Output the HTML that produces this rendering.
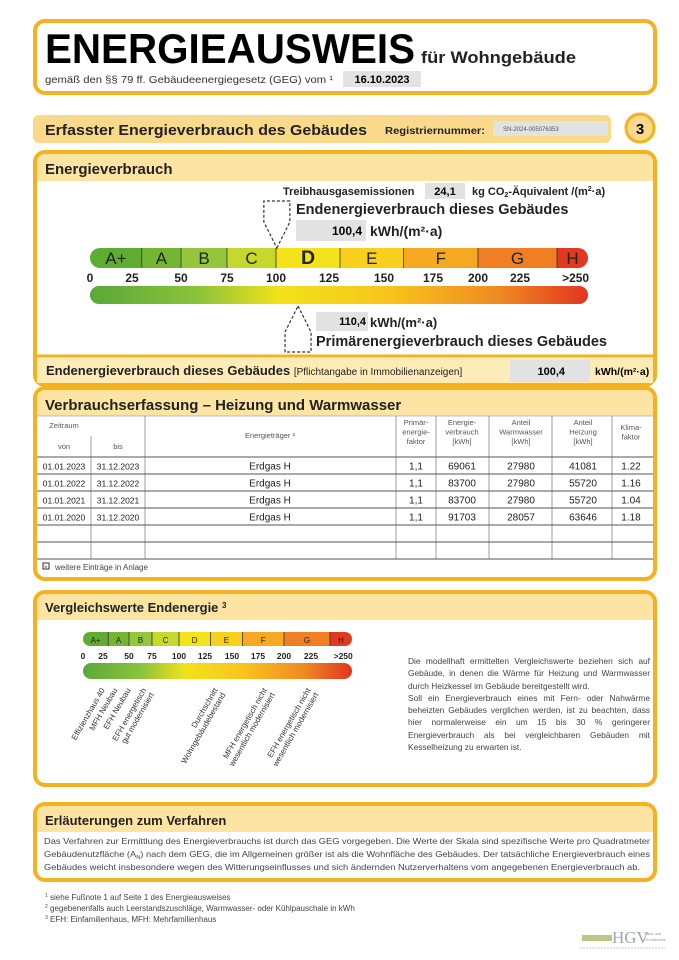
<!DOCTYPE html>
<html><head><meta charset="utf-8">
<style>
body{margin:0;background:#fff;font-family:"Liberation Sans",sans-serif;}
#page{position:relative;width:679px;height:960px;overflow:hidden;}
svg{position:absolute;left:0;top:0;}
.p{position:absolute;font-size:8.4px;color:#444;line-height:12.3px;text-align:justify;}
</style></head>
<body><div id="page">
<svg id="s" width="679" height="960" xmlns="http://www.w3.org/2000/svg" font-family="Liberation Sans, sans-serif">
<defs>
<linearGradient id="gr" x1="0" x2="1" y1="0" y2="0">
<stop offset="0" stop-color="#5aa83a"/><stop offset="0.22" stop-color="#8cc43a"/><stop offset="0.38" stop-color="#f2e21a"/><stop offset="0.6" stop-color="#f8c41c"/><stop offset="0.82" stop-color="#f08a22"/><stop offset="1" stop-color="#e2341f"/>
</linearGradient>
</defs>
<g>
<rect x="35" y="21" width="620" height="72" rx="10" fill="#fff" stroke="#f4b120" stroke-width="4"/>
<text x="45" y="63" font-size="42" font-weight="bold" textLength="370" lengthAdjust="spacingAndGlyphs">ENERGIEAUSWEIS</text>
<text x="421" y="63" font-size="17" font-weight="bold" fill="#222" textLength="155" lengthAdjust="spacingAndGlyphs">für Wohngebäude</text>
<text x="45" y="83" font-size="10" fill="#333" textLength="288" lengthAdjust="spacingAndGlyphs">gemäß den §§ 79 ff. Gebäudeenergiegesetz (GEG) vom ¹</text>
<rect x="343" y="71" width="78" height="16" fill="#e3e3e3"/>
<text x="382" y="83" font-size="11" font-weight="bold" text-anchor="middle">16.10.2023</text>
</g>
<g>
<rect x="33" y="115" width="578" height="28" rx="6" fill="#fbd98a"/>
<text x="45" y="135" font-size="15" font-weight="bold" fill="#222" textLength="322" lengthAdjust="spacingAndGlyphs">Erfasster Energieverbrauch des Gebäudes</text>
<text x="385" y="134" font-size="10" font-weight="bold" fill="#222" textLength="100" lengthAdjust="spacingAndGlyphs">Registriernummer:</text>
<rect x="493" y="121" width="115" height="15" fill="#e2e2e2"/>
<text x="503" y="131" font-size="6" fill="#555">SN-2024-005076353</text>
<circle cx="640" cy="128" r="14" fill="#fbd98a" stroke="#f4b120" stroke-width="3"/>
<text x="640" y="134" font-size="15" font-weight="bold" text-anchor="middle">3</text>
</g>
<g>
<rect x="35" y="152" width="620" height="233" rx="10" fill="#fff" stroke="#f4b120" stroke-width="4"/>
<path d="M37 181 V162 a8 8 0 0 1 8 -8 H645 a8 8 0 0 1 8 8 V181 Z" fill="#fde4a2"/>
<text x="45" y="174" font-size="15" font-weight="bold" fill="#222">Energieverbrauch</text>
<text x="283" y="195" font-size="11" font-weight="bold" fill="#222">Treibhausgasemissionen</text>
<rect x="425" y="183" width="40" height="16" fill="#e2e2e2"/>
<text x="445" y="195" font-size="11" font-weight="bold" text-anchor="middle">24,1</text>
<text x="472" y="195" font-size="11" font-weight="bold" fill="#222">kg CO<tspan font-size="7" dy="2">2</tspan><tspan dy="-2">-Äquivalent /(m</tspan><tspan font-size="7" dy="-4">2</tspan><tspan dy="4">·a)</tspan></text>
<text x="296" y="214" font-size="14.5" font-weight="bold" fill="#222">Endenergieverbrauch dieses Gebäudes</text>
<rect x="296" y="220" width="70" height="21" fill="#e2e2e2"/>
<text x="362" y="235" font-size="12" font-weight="bold" text-anchor="end">100,4</text>
<text x="370" y="236" font-size="14" font-weight="bold" fill="#222">kWh/(m²·a)</text>
<rect x="316" y="312" width="52" height="19" fill="#e2e2e2"/>
<text x="366" y="325" font-size="11" font-weight="bold" text-anchor="end">110,4</text>
<text x="370" y="327" font-size="13" font-weight="bold" fill="#222">kWh/(m²·a)</text>
<text x="316" y="346" font-size="14.5" font-weight="bold" fill="#222">Primärenergieverbrauch dieses Gebäudes</text>
<line x1="37" y1="356" x2="653" y2="356" stroke="#f4b120" stroke-width="3"/>
<rect x="37" y="358" width="616" height="25" fill="#fdecb8"/>
<text x="46" y="375" font-size="13" font-weight="bold" fill="#222">Endenergieverbrauch dieses Gebäudes <tspan font-size="10" font-weight="normal">[Pflichtangabe in Immobilienanzeigen]</tspan></text>
<rect x="510" y="360" width="80" height="22" fill="#e2e2e2"/>
<text x="565" y="375" font-size="11" font-weight="bold" text-anchor="end">100,4</text>
<text x="595" y="375" font-size="10.5" font-weight="bold">kWh/(m²·a)</text>
</g>
<g id="mainScale"></g>
<g>
<rect x="35" y="388" width="620" height="191" rx="10" fill="#fff" stroke="#f4b120" stroke-width="4"/>
<path d="M37 416 V398 a8 8 0 0 1 8 -8 H645 a8 8 0 0 1 8 8 V416 Z" fill="#fde4a2"/>
<text x="45" y="410" font-size="15" font-weight="bold" fill="#222">Verbrauchserfassung – Heizung und Warmwasser</text>
</g>
<g id="tbl"></g>
<g>
<rect x="35" y="592" width="620" height="193" rx="10" fill="#fff" stroke="#f4b120" stroke-width="4"/>
<path d="M37 620 V602 a8 8 0 0 1 8 -8 H645 a8 8 0 0 1 8 8 V620 Z" fill="#fde4a2"/>
<text x="45" y="612" font-size="13" font-weight="bold" fill="#222">Vergleichswerte Endenergie <tspan font-size="8" dy="-4">3</tspan></text>
</g>
<g id="miniScale"></g>
<g>
<rect x="35" y="804" width="620" height="76" rx="10" fill="#fff" stroke="#f4b120" stroke-width="4"/>
<path d="M37 832 V814 a8 8 0 0 1 8 -8 H645 a8 8 0 0 1 8 8 V832 Z" fill="#fde4a2"/>
<text x="45" y="825" font-size="13" font-weight="bold" fill="#222">Erläuterungen zum Verfahren</text>
</g>
<g font-size="8.2" fill="#444">
<text x="44" y="844" textLength="606" lengthAdjust="spacingAndGlyphs">Das Verfahren zur Ermittlung des Energieverbrauchs ist durch das GEG vorgegeben. Die Werte der Skala sind spezifische Werte pro Quadratmeter</text>
<text x="44" y="857" textLength="606" lengthAdjust="spacingAndGlyphs">Gebäudenutzfläche (A<tspan font-size="5" dy="2">N</tspan><tspan dy="-2">) nach dem GEG, die im Allgemeinen größer ist als die Wohnfläche des Gebäudes. Der tatsächliche Energieverbrauch eines</tspan></text>
<text x="44" y="870" textLength="596" lengthAdjust="spacingAndGlyphs">Gebäudes weicht insbesondere wegen des Witterungseinflusses und sich ändernden Nutzerverhaltens vom angegebenen Energieverbrauch ab.</text>
</g>
<g font-size="8" fill="#444">
<text x="45" y="900"><tspan font-size="5" dy="-3">1</tspan><tspan dy="3"> siehe Fußnote 1 auf Seite 1 des Energieausweises</tspan></text>
<text x="45" y="911"><tspan font-size="5" dy="-3">2</tspan><tspan dy="3"> gegebenenfalls auch Leerstandszuschläge, Warmwasser- oder Kühlpauschale in kWh</tspan></text>
<text x="45" y="922"><tspan font-size="5" dy="-3">3</tspan><tspan dy="3"> EFH: Einfamilienhaus, MFH: Mehrfamilienhaus</tspan></text>
</g>
<g>
<rect x="582" y="935" width="30" height="6" fill="#b7c98a"/>
<text x="612" y="943" font-size="17" font-family="Liberation Serif, serif" fill="#9aa">HGV</text>
<text x="644" y="935" font-size="4" fill="#999">Haus und</text>
<text x="644" y="941" font-size="4" fill="#999">Grundbesitz</text>
<line x1="580" y1="948" x2="665" y2="948" stroke="#ccc" stroke-width="1" stroke-dasharray="2 1"/>
</g>
</svg>
<div class="p" style="left:408px;top:655px;width:242px;">Die modellhaft ermittelten Vergleichswerte beziehen sich auf Gebäude, in denen die Wärme für Heizung und Warmwasser durch Heizkessel im Gebäude bereitgestellt wird.<br>Soll ein Energieverbrauch eines mit Fern- oder Nahwärme beheizten Gebäudes verglichen werden, ist zu beachten, dass hier normalerweise ein um 15 bis 30 % geringerer Energieverbrauch als bei vergleichbaren Gebäuden mit Kesselheizung zu erwarten ist.</div>
</div>
<script>
const classNames = ["A+","A","B","C","D","E","F","G","H"];
const classUpper = [30,50,75,100,130,160,200,250,275];
const tickValues = [0,25,50,75,100,125,150,175,200,225,265];
const tickLabels = ["0","25","50","75","100","125","150","175","200","225",">250"];
const endEnergy = 100.4;
const primaryEnergy = 110.4;
const classColors = ["#5fac32","#74b631","#93c63a","#c5d82c","#f4e21a","#f8d01d","#f6a823","#ef7f22","#e2381f"];
const compLabels = [["Effizienzhaus 40"],["MFH Neubau"],["EFH Neubau"],["EFH energetisch","gut modernisiert"],["Durchschnitt","Wohngebäudebestand"],["MFH energetisch nicht","wesentlich modernisiert"],["EFH energetisch nicht","wesentlich modernisiert"]];
const compValues = [27,39,52,69,137,184,225];
const tableRows = [
 ["01.01.2023","31.12.2023","Erdgas H","1,1","69061","27980","41081","1.22"],
 ["01.01.2022","31.12.2022","Erdgas H","1,1","83700","27980","55720","1.16"],
 ["01.01.2021","31.12.2021","Erdgas H","1,1","83700","27980","55720","1.04"],
 ["01.01.2020","31.12.2020","Erdgas H","1,1","91703","28057","63646","1.18"]];

const NS="http://www.w3.org/2000/svg";
function mk(tag,attrs,parent,txt){const e=document.createElementNS(NS,tag);for(const k in attrs)e.setAttribute(k,attrs[k]);if(txt!==undefined)e.textContent=txt;parent.appendChild(e);return e;}
function axis(anchorsV,anchorsP){return v=>{for(let i=1;i<anchorsV.length;i++){if(v<=anchorsV[i]){const t=(v-anchorsV[i-1])/(anchorsV[i]-anchorsV[i-1]);return anchorsP[i-1]+t*(anchorsP[i]-anchorsP[i-1]);}}return anchorsP[anchorsP.length-1];};}
const axV=[0,25,50,75,100,125,150,175,200,225,250,275];
const xMain=axis(axV,[90,132,181,227,276,329,384,433,478,520,557,588]);
const xMini=axis(axV,[83,103,129,152,179,205,232,258,284,311,330,352]);

function drawScale(g,x,y0,h,gy,gh,ly,fs,lfs,bold){
  const clip=mk('clipPath',{id:g.id+'c'},g);
  mk('rect',{x:x(0),y:y0,width:x(275)-x(0),height:h,rx:h/2},clip);
  const bars=mk('g',{'clip-path':'url(#'+g.id+'c)'},g);
  let prev=0;
  classNames.forEach((c,i)=>{
    const r=mk('rect',{x:x(prev),y:y0,width:x(classUpper[i])-x(prev),height:h,fill:classColors[i]},bars);
    
    
    if(i>0)mk('line',{x1:x(prev),x2:x(prev),y1:y0,y2:y0+h,stroke:'#333','stroke-width':0.8},bars);
    const t=mk('text',{x:(x(prev)+x(classUpper[i]))/2,y:y0+h*0.8,'font-size':(c==='D'&&bold)?fs*1.15:fs,'text-anchor':'middle','font-weight':(c==='D'&&bold)?'bold':'normal',fill:'#222'},g,c);
    
    
    prev=classUpper[i];
  });
  tickValues.forEach((v,i)=>{
    const t=mk('text',{x:x(v),y:ly,'font-size':lfs,'font-weight':'bold','text-anchor':'middle',fill:'#222'},g,tickLabels[i]);
    
    
  });
  const gb=mk('rect',{x:x(0),y:gy,width:x(275)-x(0),height:gh,rx:gh/2,fill:'url(#gr)'},g);
  
  
}
const ms=document.getElementById('mainScale');
drawScale(ms,xMain,248,20,286,18,282,17,12,true);
const ex=xMain(endEnergy);
const m1=mk('path',{d:`M${ex} 248 L${ex+13} 222 L${ex+13} 201 L${ex-13} 201 L${ex-13} 222 Z`,fill:'none',stroke:'#333','stroke-width':1.2,'stroke-dasharray':'3 2'},ms);


const px=xMain(primaryEnergy);
const m2=mk('path',{d:`M${px} 306 L${px+13} 332 L${px+13} 352 L${px-13} 352 L${px-13} 332 Z`,fill:'none',stroke:'#333','stroke-width':1.2,'stroke-dasharray':'3 2'},ms);



const mini=document.getElementById('miniScale');
drawScale(mini,xMini,632,14,663,16,659,8,8.5,false);
compLabels.forEach((lines,i)=>{
  const cx=xMini(compValues[i]);
  const t=mk('text',{transform:`translate(${cx},690) rotate(-60)`,'font-size':8,'text-anchor':'end',fill:'#333'},mini);
  
  
  lines.forEach((l,j)=>{mk('tspan',{x:0,dy:j?9:0},t,l);});
});

const tb=document.getElementById('tbl');
const colX=[37,91,145,396,436,489,552,612,653];
const rowY=[457,474,491,508,525,542,559];
mk('line',{x1:37,x2:653,y1:416,y2:416,stroke:'#888','stroke-width':0.6},tb);
colX.slice(1,-1).forEach((cx,i)=>{mk('line',{x1:cx,x2:cx,y1:(i===0?436:416),y2:559,stroke:'#777','stroke-width':0.7},tb);});
rowY.forEach(y=>mk('line',{x1:37,x2:653,y1:y,y2:y,stroke:'#555','stroke-width':1},tb));
const hdr=[[64,428,["Zeitraum"]],[64,449,["von"]],[118,449,["bis"]],[270,438,["Energieträger ²"]],[416,425,["Primär-","energie-","faktor"]],[462,425,["Energie-","verbrauch","[kWh]"]],[521,425,["Anteil","Warmwasser","[kWh]"]],[583,425,["Anteil","Heizung","[kWh]"]],[631,430,["Klima-","faktor"]]];
hdr.forEach(h=>{const t=mk('text',{x:h[0],y:h[1],'font-size':7.5,'text-anchor':'middle',fill:'#555'},tb);
  
  
  h[2].forEach((l,j)=>mk('tspan',{x:h[0],dy:j?9.5:0},t,l));});
const cellX=[64,118,270,416,462,521,583,631];
tableRows.forEach((r,i)=>{r.forEach((c,j)=>{
  const t=mk('text',{x:cellX[j],y:rowY[i]+12.5,'font-size':j<2?8.5:10,'text-anchor':'middle',fill:'#222'},tb,c);
  
  
});});
mk('rect',{x:43,y:563,width:6,height:6,fill:'none',stroke:'#333'},tb);
mk('text',{x:44,y:569,'font-size':6,fill:'#333'},tb,'×');
mk('text',{x:55,y:570,'font-size':8,fill:'#444'},tb,'weitere Einträge in Anlage');
</script>
</body></html>
